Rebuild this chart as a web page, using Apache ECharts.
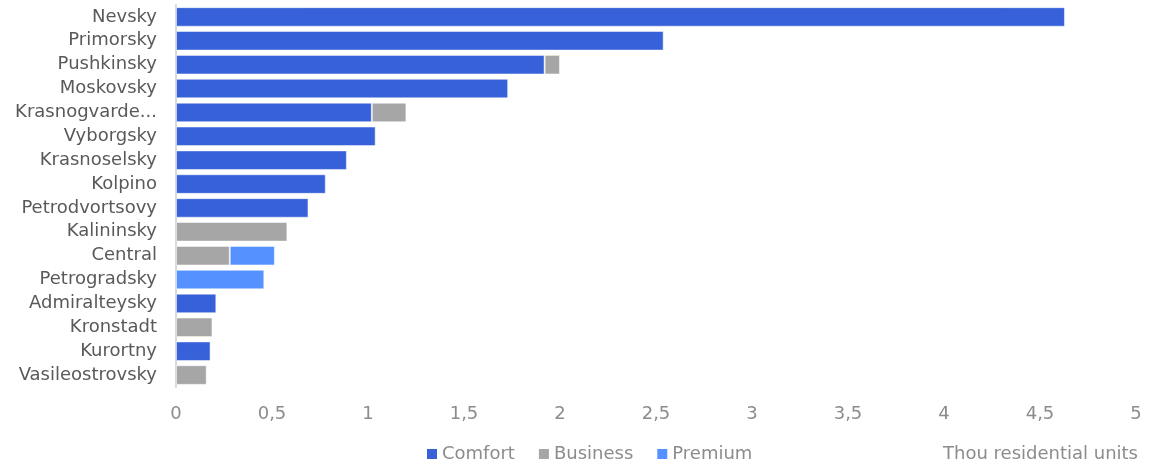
<!DOCTYPE html>
<html><head><meta charset="utf-8">
<script src="https://cdn.jsdelivr.net/npm/echarts@6/dist/echarts.min.js"></script>
<style>html,body{margin:0;padding:0;background:#fff}#c{width:1149px;height:461px}</style>
</head><body><div id="c"></div>
<script>
const categories = ["Nevsky","Primorsky","Pushkinsky","Moskovsky","Krasnogvardeysky","Vyborgsky","Krasnoselsky","Kolpino","Petrodvortsovy","Kalininsky","Central","Petrogradsky","Admiralteysky","Kronstadt","Kurortny","Vasileostrovsky"];
const comfort  = [4.63, 2.54, 1.92, 1.73, 1.02, 1.04, 0.89, 0.78, 0.69, null, null, null, 0.21, null, 0.18, null];
const business = [null, null, 0.08, null, 0.18, null, null, null, null, 0.58, 0.28, null, null, 0.19, null, 0.16];
const premium  = [null, null, null, null, null, null, null, null, null, null, 0.235, 0.46, null, null, null, null];
const seriesNames = ["Comfort","Business","Premium"];
const unitLabel = "Thou residential units";

const font = "DejaVu Sans, Verdana, sans-serif";
const colors = ["#3661d8", "#a6a6a6", "#5592ff"];
const chart = echarts.init(document.getElementById('c'), null, {renderer:'canvas'});
const mk = (name, data, i) => ({
  name, type:'bar', stack:'total', data, barCategoryGap:'18%',
  itemStyle:{color:colors[i], borderColor:'rgba(255,255,255,0.5)', borderWidth:1},
  emphasis:{disabled:true}
});
chart.setOption({
  animation:false,
  color:colors,
  grid:{left:176, right:13, top:5, bottom:74, containLabel:false},
  xAxis:{type:'value', min:0, max:5, interval:0.5,
    axisLine:{show:false}, axisTick:{show:false}, splitLine:{show:false},
    axisLabel:{color:'#8c8c8c', fontSize:18, fontFamily:font, margin:18,
      formatter:v=>String(v).replace('.',',')}},
  yAxis:{type:'category', data:categories, inverse:true,
    axisLine:{show:true, lineStyle:{color:'#d9d9d9', width:2}}, axisTick:{show:false},
    axisLabel:{color:'#595959', fontSize:18, fontFamily:font, margin:19,
      width:150, overflow:'truncate', ellipsis:'...'}},
  legend:{top:445, left:427, data:seriesNames, itemWidth:10, itemHeight:10, itemGap:24,
    icon:'rect', textStyle:{color:'#8c8c8c', fontSize:18, fontFamily:font}, padding:[0,0,0,0], itemStyle:{borderWidth:0}},
  graphic:[{type:'text', right:11, top:445, style:{text:unitLabel, fill:'#8c8c8c', fontSize:18, fontFamily:font}}],
  series:[mk(seriesNames[0], comfort, 0), mk(seriesNames[1], business, 1), mk(seriesNames[2], premium, 2)]
});
</script></body></html>
